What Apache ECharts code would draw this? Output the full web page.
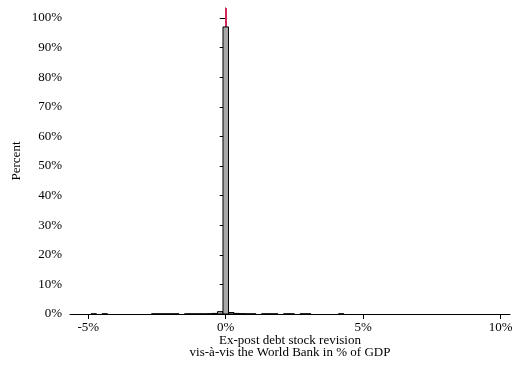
<!DOCTYPE html>
<html>
<head>
<meta charset="utf-8">
<script src="https://cdn.jsdelivr.net/npm/echarts@6/dist/echarts.min.js"></script>
<style>html,body{margin:0;padding:0;background:#fff;}#c{width:512px;height:365px;}</style>
</head>
<body>
<div id="c"></div>
<script>
// Histogram bins (bin centres in % of GDP, width 0.2) and share of observations (%)
var binWidth = 0.2;
var binCenters = [-4.8, -4.4, -2.6, -2.4, -2.2, -2.0, -1.8, -1.4, -1.2, -1.0, -0.8, -0.6, -0.4, -0.2, 0.0, 0.2, 0.4, 0.6, 0.8, 1.0, 1.4, 1.6, 1.8, 2.2, 2.4, 2.8, 3.0, 4.2];
var binPercents = [0.05, 0.05, 0.05, 0.05, 0.05, 0.05, 0.05, 0.05, 0.05, 0.05, 0.05, 0.1, 0.2, 0.8, 97.0, 0.5, 0.2, 0.1, 0.05, 0.05, 0.05, 0.05, 0.05, 0.05, 0.05, 0.05, 0.05, 0.05];
var xTicks = [-5, 0, 5, 10];
var yTicks = [0, 10, 20, 30, 40, 50, 60, 70, 80, 90, 100];
var refLineX = 0;

var font = 'Liberation Serif';
var chart = echarts.init(document.getElementById('c'), null, {renderer: 'canvas'});
var data = binCenters.map(function (c, i) { return [c - binWidth / 2, c + binWidth / 2, binPercents[i]]; });

chart.setOption({
  animation: false,
  backgroundColor: '#fff',
  grid: {left: 70, right: 2, top: 8, bottom: 51, containLabel: false, outerBoundsMode: 'none'},
  xAxis: {
    type: 'value', min: -5.665, max: 10.34,
    axisLine: {show: true, onZero: false, lineStyle: {color: '#000', width: 1}},
    axisTick: {show: true, length: 5, customValues: xTicks, lineStyle: {color: '#000'}},
    axisLabel: {customValues: xTicks, color: '#000', fontFamily: font, fontSize: 13, margin: 7,
      formatter: function (v) { return v + '%'; }},
    splitLine: {show: false},
    name: 'Ex-post debt stock revision\nvis-à-vis the World Bank in % of GDP',
    nameLocation: 'middle', nameGap: 20, nameMoveOverlap: false,
    nameTextStyle: {color: '#000', fontFamily: font, fontSize: 13, lineHeight: 12.5, verticalAlign: 'top'}
  },
  yAxis: {
    type: 'value', min: 0, max: 103.4,
    axisLine: {show: true, lineStyle: {color: '#000', width: 1}},
    axisTick: {show: true, length: 6, customValues: yTicks, lineStyle: {color: '#000'}},
    axisLabel: {customValues: yTicks, color: '#000', fontFamily: font, fontSize: 13, margin: 8,
      formatter: function (v) { return v + '%'; }},
    splitLine: {show: false},
    name: 'Percent', nameLocation: 'middle', nameGap: 47, nameRotate: 90, nameMoveOverlap: false,
    nameTextStyle: {color: '#000', fontFamily: font, fontSize: 13}
  },
  series: [{
    type: 'custom',
    data: data,
    encode: {x: [0, 1], y: 2},
    renderItem: function (params, api) {
      var p0 = api.coord([api.value(0), 0]);
      var p1 = api.coord([api.value(1), api.value(2)]);
      return {
        type: 'rect',
        shape: {x: p0[0], y: p1[1], width: p1[0] - p0[0], height: p0[1] - p1[1]},
        style: {fill: '#a8a8a8', stroke: '#000', lineWidth: 1}
      };
    },
    markLine: {
      silent: true, symbol: 'none', z: 1,
      label: {show: false},
      lineStyle: {color: '#d1285a', width: 2, type: 'solid'},
      data: [{xAxis: refLineX}]
    },
    z: 2
  }]
});
</script>
</body>
</html>
